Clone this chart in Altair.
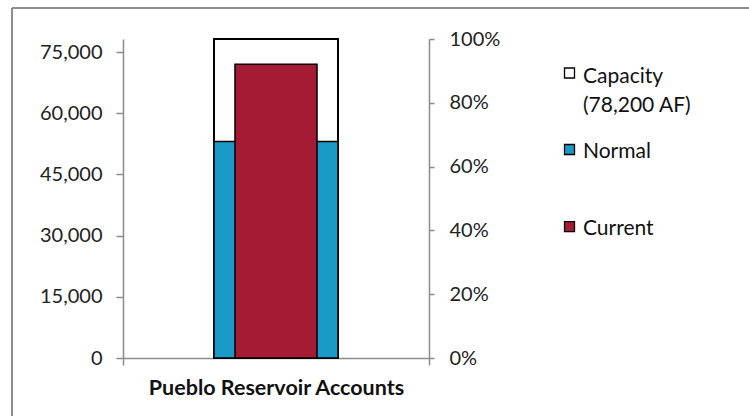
import altair as alt
import pandas as pd

# ---- data ----
category = ["Pueblo Reservoir Accounts"]
series = ["Capacity", "Normal", "Current"]
legend_labels = ["Capacity\n(78,200 AF)", "Normal", "Current"]
values_af = [78200, 53100, 72000]
capacity_af = 78200
af_ticks = [0, 15000, 30000, 45000, 60000, 75000]
pct_ticks = [0, 0.2, 0.4, 0.6, 0.8, 1.0]
colors = ["#ffffff", "#1b9ac7", "#a51b33"]

df = pd.DataFrame({"account": category * len(series), "series": series, "af": values_af})
df["pct"] = df["af"] / capacity_af

# ---- layout ----
W, H = 306, 319
LEFT, TOP = 123, 39
FONT = "Lato"
GRAY = "#8c8c8c"

base = alt.Chart(df)

xenc = alt.X(
    "account:N",
    scale=alt.Scale(paddingInner=0, paddingOuter=0),
    axis=alt.Axis(
        title=None, labelAngle=0, labelFont=FONT, labelFontWeight="bold",
        labelFontSize=21.5, labelColor="#111111", tickBand="extent", tickSize=7,
        tickColor=GRAY, domainColor=GRAY, domainWidth=1.5, tickWidth=1.5,
        labelPadding=12, labelLimit=0,
    ),
)
yscale = alt.Scale(domain=[0, capacity_af], nice=False, zero=True)
left_axis = alt.Axis(
    title=None, values=af_ticks, format=",d", grid=False, domainColor=GRAY,
    domainWidth=1.5, tickColor=GRAY, tickWidth=1.5, tickSize=7, labelPadding=14,
    labelFont=FONT, labelFontSize=20, labelColor="#222222",
)

cap = base.transform_filter(alt.datum.series == "Capacity").mark_bar(
    width=124, fill="white", stroke="black", strokeWidth=2
).encode(x=xenc, y=alt.Y("af:Q", scale=yscale, axis=left_axis))

normal = base.transform_filter(alt.datum.series == "Normal").mark_bar(
    width=124, fill=colors[1], stroke="black", strokeWidth=1.5
).encode(x=xenc, y=alt.Y("af:Q", scale=yscale, axis=left_axis))

current = base.transform_filter(alt.datum.series == "Current").mark_bar(
    width=82, fill=colors[2], stroke="black", strokeWidth=1.5
).encode(x=xenc, y=alt.Y("af:Q", scale=yscale, axis=left_axis))

bars = alt.layer(cap, normal, current)

pct = base.transform_filter(alt.datum.series == "Capacity").mark_point(opacity=0).encode(
    x=xenc,
    y=alt.Y(
        "pct:Q",
        scale=alt.Scale(domain=[0, 1], nice=False),
        axis=alt.Axis(
            orient="right", title=None, values=pct_ticks, format=".0%", grid=False,
            domainColor=GRAY, domainWidth=1.5, tickColor=GRAY, tickWidth=1.5,
            tickSize=5, labelPadding=15, labelFont=FONT, labelFontSize=20,
            labelColor="#222222",
        ),
    ),
)

# ---- legend (manual, to match spacing of the original) ----
sq_y = [73, 149.5, 226.7]
txt_y = [82.5, 158, 235]
legend_layers = []
for i, s in enumerate(series):
    ldf = pd.DataFrame({"series": [s], "label": [legend_labels[i]]})
    legend_layers.append(
        alt.Chart(ldf).mark_square(
            size=100, fill=colors[i], stroke="black", strokeWidth=1.3, opacity=1
        ).encode(x=alt.value(569.5 - LEFT), y=alt.value(sq_y[i] - TOP))
    )
    legend_layers.append(
        alt.Chart(ldf).mark_text(
            align="left", baseline="alphabetic", font=FONT, fontSize=21,
            lineBreak="\n", lineHeight=29, color="#111111",
        ).encode(x=alt.value(583 - LEFT), y=alt.value(txt_y[i] - TOP), text="label:N")
    )

# ---- outer frame (top and left edges visible) ----
frame_df = pd.DataFrame({"k": [0]})
frame_top = alt.Chart(frame_df).mark_rule(color=GRAY, strokeWidth=2).encode(
    x=alt.value(12 - LEFT), x2=alt.value(749 - LEFT), y=alt.value(8 - TOP)
)
frame_left = alt.Chart(frame_df).mark_rule(color=GRAY, strokeWidth=2).encode(
    x=alt.value(12 - LEFT), y=alt.value(8 - TOP), y2=alt.value(416 - TOP)
)

chart = alt.layer(bars, pct, *legend_layers, frame_top, frame_left).resolve_scale(
    y="independent"
).properties(
    width=W, height=H,
    autosize=alt.AutoSizeParams(type="none"),
    padding={"left": LEFT, "top": TOP, "right": 749 - LEFT - W, "bottom": 416 - TOP - H},
    background="white",
).configure_view(stroke=None)

chart.save("out.html", embed_options={"renderer": "svg", "actions": False})
